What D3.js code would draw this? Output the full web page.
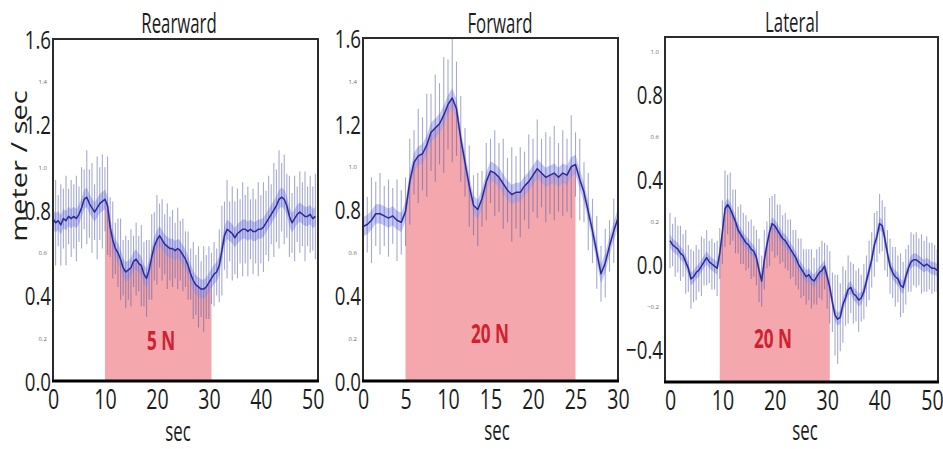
<!DOCTYPE html>
<html>
<head>
<meta charset="utf-8">
<script src="https://cdn.jsdelivr.net/npm/d3@7"></script>
<style>
  html, body { margin: 0; padding: 0; background: #fff; }
  svg { display: block; font-family: "Open Sans", "Noto Sans", sans-serif; }
</style>
</head>
<body>
<svg id="chart" width="943" height="449"></svg>
<script>
// Walking speed (m/s) sampled every 0.5 s, mean and error half-length per sample
const sampleStep = 0.5;

const rearwardMean = [
  0.76,0.74,0.75,0.73,0.76,0.75,0.77,0.76,0.77,0.76,
  0.78,0.81,0.85,0.86,0.83,0.81,0.79,0.81,0.83,0.84,
  0.85,0.82,0.72,0.66,0.62,0.60,0.57,0.53,0.51,0.52,
  0.53,0.56,0.57,0.55,0.54,0.50,0.48,0.52,0.58,0.63,
  0.66,0.68,0.66,0.64,0.63,0.62,0.62,0.61,0.62,0.61,
  0.59,0.57,0.54,0.50,0.47,0.45,0.44,0.43,0.43,0.44,
  0.46,0.48,0.50,0.51,0.54,0.61,0.68,0.71,0.70,0.69,
  0.67,0.69,0.70,0.71,0.71,0.70,0.71,0.70,0.70,0.71,
  0.71,0.72,0.74,0.76,0.78,0.80,0.82,0.85,0.86,0.85,
  0.82,0.77,0.74,0.76,0.78,0.79,0.78,0.77,0.77,0.78,
  0.76,0.77
];
const rearwardErr = [
  0.16,0.20,0.12,0.19,0.14,0.21,0.13,0.18,0.15,0.20,
  0.13,0.19,0.14,0.22,0.16,0.21,0.13,0.24,0.17,0.22,
  0.15,0.23,0.14,0.18,0.12,0.16,0.19,0.13,0.17,0.14,
  0.18,0.12,0.17,0.13,0.19,0.15,0.18,0.14,0.20,0.16,
  0.21,0.15,0.19,0.14,0.20,0.15,0.18,0.13,0.19,0.14,
  0.17,0.13,0.16,0.12,0.18,0.14,0.19,0.13,0.20,0.15,
  0.17,0.12,0.15,0.11,0.17,0.21,0.16,0.23,0.14,0.22,
  0.17,0.21,0.15,0.22,0.16,0.21,0.14,0.20,0.15,0.22,
  0.16,0.21,0.15,0.20,0.14,0.22,0.17,0.23,0.16,0.21,
  0.15,0.19,0.14,0.20,0.13,0.19,0.15,0.21,0.14,0.18,
  0.15,0.20
];

const forwardMean = [
  0.72,0.73,0.75,0.78,0.78,0.77,0.76,0.77,0.75,0.74,
  0.79,0.93,1.02,1.05,1.06,1.10,1.16,1.18,1.20,1.24,
  1.29,1.32,1.27,1.13,1.02,0.91,0.82,0.80,0.85,0.93,
  0.98,0.97,0.95,0.92,0.89,0.87,0.88,0.88,0.91,0.93,
  0.96,0.99,0.97,0.95,0.96,0.97,0.95,0.97,0.96,1.00,
  1.01,0.94,0.88,0.79,0.70,0.60,0.50,0.55,0.63,0.70,
  0.76
];
const forwardErr = [
  0.17,0.13,0.20,0.15,0.19,0.14,0.18,0.13,0.19,0.15,
  0.16,0.20,0.15,0.22,0.17,0.24,0.18,0.25,0.19,0.27,
  0.21,0.30,0.22,0.20,0.16,0.19,0.14,0.17,0.13,0.18,
  0.15,0.20,0.16,0.21,0.15,0.22,0.17,0.21,0.16,0.22,
  0.17,0.23,0.16,0.21,0.18,0.22,0.16,0.20,0.17,0.24,
  0.15,0.19,0.14,0.18,0.15,0.17,0.13,0.16,0.12,0.15,
  0.13
];

const lateralMean = [
  0.11,0.09,0.08,0.07,0.05,0.04,0.01,-0.02,-0.07,-0.06,
  -0.04,-0.03,-0.01,0.01,0.03,0.01,0.00,-0.01,-0.02,0.05,
  0.15,0.26,0.28,0.26,0.23,0.20,0.16,0.14,0.12,0.10,
  0.09,0.07,0.06,0.03,-0.03,-0.08,0.02,0.09,0.15,0.19,
  0.18,0.16,0.14,0.12,0.11,0.09,0.07,0.05,0.03,0.00,
  -0.02,-0.04,-0.06,-0.05,-0.07,-0.08,-0.06,-0.04,-0.03,-0.01,
  -0.06,-0.11,-0.18,-0.24,-0.26,-0.25,-0.19,-0.16,-0.12,-0.11,
  -0.14,-0.15,-0.17,-0.16,-0.13,-0.08,-0.03,0.02,0.09,0.13,
  0.19,0.18,0.12,0.05,-0.01,-0.04,-0.06,-0.07,-0.10,-0.11,
  -0.06,-0.02,0.01,0.02,0.02,0.01,0.00,-0.01,0.00,-0.01,
  -0.02,-0.02,-0.03
];
const lateralErr = [
  0.13,0.10,0.14,0.11,0.13,0.10,0.15,0.11,0.14,0.12,
  0.13,0.10,0.14,0.11,0.13,0.10,0.12,0.11,0.13,0.12,
  0.15,0.18,0.14,0.17,0.12,0.15,0.11,0.14,0.12,0.13,
  0.11,0.14,0.12,0.13,0.15,0.12,0.14,0.11,0.16,0.13,
  0.15,0.12,0.14,0.11,0.13,0.12,0.14,0.11,0.13,0.12,
  0.14,0.11,0.13,0.12,0.14,0.11,0.13,0.12,0.14,0.11,
  0.15,0.17,0.14,0.19,0.21,0.16,0.18,0.13,0.16,0.12,
  0.14,0.12,0.15,0.11,0.13,0.12,0.14,0.13,0.15,0.12,
  0.14,0.12,0.15,0.11,0.13,0.12,0.14,0.11,0.15,0.12,
  0.13,0.11,0.14,0.12,0.13,0.11,0.14,0.12,0.13,0.11,
  0.12,0.11,0.10
];

const panelTitles = ["Rearward", "Forward", "Lateral"];
const forceLabels = ["5 N", "20 N", "20 N"];
const forceWindows = [[10, 30.5], [5, 25], [9.5, 30.5]];
const xTickValues = [[0, 10, 20, 30, 40, 50], [0, 5, 10, 15, 20, 25, 30], [0, 10, 20, 30, 40, 50]];
const yMajorTicks = [[0, 0.4, 0.8, 1.2, 1.6], [0, 0.4, 0.8, 1.2, 1.6], [-0.4, 0, 0.4, 0.8]];
const yMinorTicks = [[0.2, 0.6, 1.0, 1.4], [0.2, 0.6, 1.0, 1.4], [-0.2, 0.2, 0.6, 1.0]];
const spreadBand = [0.045, 0.045, 0.03];
const yDomains = [[0, 1.6], [0, 1.6], [-0.555, 1.068]];
const xDomains = [[0, 51], [0, 30], [-0.95, 51.15]];

const series = [
  { mean: rearwardMean, err: rearwardErr },
  { mean: forwardMean, err: forwardErr },
  { mean: lateralMean, err: lateralErr }
];

// Frame geometry of each panel
const frames = [
  { left: 53, right: 318, top: 39, bottom: 381, titleX: 179, titleY: 33, secX: 178, secY: 441, forceY: 350, forceX: 161 },
  { left: 363, right: 618, top: 38, bottom: 381, titleX: 500, titleY: 33, secX: 497, secY: 440, forceY: 343, forceX: 490 },
  { left: 665, right: 938, top: 37, bottom: 382, titleX: 792, titleY: 32, secX: 805, secY: 440, forceY: 348, forceX: 773 }
];

const colors = {
  force: "#f4a7ac",
  band: "#9ea2f0",
  bar: "#4d55a8",
  mean: "#2a2a98",
  frame: "#2b2b2b",
  text: "#1c1c1c",
  forceText: "#cf2231"
};

const svg = d3.select("#chart");

// Text squeezed horizontally, the way the figure's lettering is set
function squeezedText(parent, x, y, str, size, sx, opts = {}) {
  return parent.append("text")
    .attr("transform", `translate(${x},${y}) scale(${sx},1)`)
    .attr("text-anchor", opts.anchor || "middle")
    .style("font-size", size + "px")
    .style("font-weight", opts.weight || 400)
    .attr("fill", opts.fill || colors.text)
    .text(str);
}

frames.forEach((f, i) => {
  const s = series[i];
  const samples = s.mean.map((m, k) => ({ t: k * sampleStep, m, e: s.err[k] }));

  const x = d3.scaleLinear().domain(xDomains[i]).range([f.left, f.right]);
  const y = d3.scaleLinear().domain(yDomains[i]).range([f.bottom, f.top]);

  const g = svg.append("g");
  const clipId = "clip" + i;
  svg.append("clipPath").attr("id", clipId)
    .append("rect")
    .attr("x", f.left).attr("y", f.top)
    .attr("width", f.right - f.left).attr("height", f.bottom - f.top);

  const plot = g.append("g").attr("clip-path", `url(#${clipId})`);

  // Applied-force interval: filled under the mean speed curve
  const [fa, fb] = forceWindows[i];
  const inForce = samples.filter(d => d.t >= fa - 1e-9 && d.t <= fb + 1e-9);
  plot.append("path")
    .datum(inForce)
    .attr("fill", colors.force)
    .attr("d", d3.area()
      .x(d => x(d.t))
      .y0(y(yDomains[i][0]))
      .y1(d => y(d.m)));

  // Spread band around the mean
  plot.append("path")
    .datum(samples)
    .attr("fill", colors.band)
    .attr("fill-opacity", 0.6)
    .attr("d", d3.area()
      .x(d => x(d.t))
      .y0(d => y(d.m - spreadBand[i]))
      .y1(d => y(d.m + spreadBand[i])));

  // Error bars
  plot.append("g")
    .selectAll("line")
    .data(samples)
    .join("line")
    .attr("x1", d => x(d.t)).attr("x2", d => x(d.t))
    .attr("y1", d => y(d.m - d.e)).attr("y2", d => y(d.m + d.e))
    .attr("stroke", colors.bar)
    .attr("stroke-opacity", 0.5)
    .attr("stroke-width", 1.1);

  // Mean speed
  plot.append("path")
    .datum(samples)
    .attr("fill", "none")
    .attr("stroke", colors.mean)
    .attr("stroke-width", 1.5)
    .attr("stroke-linejoin", "round")
    .attr("d", d3.line().x(d => x(d.t)).y(d => y(d.m)));

  // Frame
  g.append("rect")
    .attr("x", f.left).attr("y", f.top)
    .attr("width", f.right - f.left).attr("height", f.bottom - f.top)
    .attr("fill", "none")
    .attr("stroke", colors.frame)
    .attr("stroke-width", 2);
  g.append("line")
    .attr("x1", f.left - 1).attr("x2", f.right + 1)
    .attr("y1", f.bottom).attr("y2", f.bottom)
    .attr("stroke", "#000")
    .attr("stroke-width", 3);

  // X axis
  const xAxis = g.append("g")
    .attr("transform", `translate(0,${f.bottom})`)
    .call(d3.axisBottom(x).tickValues(xTickValues[i]).tickSize(0).tickFormat(d3.format("d")));
  xAxis.select(".domain").remove();
  xAxis.selectAll(".tick text")
    .attr("y", null).attr("dy", null)
    .attr("transform", "translate(0,28) scale(0.7,1)")
    .attr("fill", colors.text)
    .style("font-size", "28px")
    .style("font-family", "'Open Sans', sans-serif");

  // Y axis: large labels every 0.4, tiny ones in between
  const majors = yMajorTicks[i];
  const isMajor = v => majors.some(m => Math.abs(m - v) < 1e-9);
  const yAxis = g.append("g")
    .attr("transform", `translate(${f.left},0)`)
    .call(d3.axisLeft(y).tickValues(majors.concat(yMinorTicks[i])).tickSize(0).tickFormat(d3.format(".1f")));
  yAxis.select(".domain").remove();
  yAxis.selectAll(".tick text")
    .attr("x", null).attr("dy", "0.36em")
    .attr("text-anchor", "end")
    .style("font-family", "'Open Sans', sans-serif")
    .each(function (d) {
      const t = d3.select(this);
      if (isMajor(d)) {
        t.attr("transform", "translate(-2,0) scale(0.72,1)")
          .attr("fill", colors.text)
          .style("font-size", "26px");
      } else {
        t.attr("transform", "translate(-6,0)")
          .attr("fill", "#6a6a6a")
          .style("font-size", "6px");
      }
    });

  // Titles and labels
  squeezedText(g, f.titleX, f.titleY, panelTitles[i], 28, 0.6);
  squeezedText(g, f.secX, f.secY, "sec", 28, 0.6);
  squeezedText(g, f.forceX, f.forceY, forceLabels[i], 26, 0.66, { weight: 700, fill: colors.forceText });
});

// Shared y-axis label
svg.append("text")
  .attr("transform", "translate(27,166) scale(0.75,1) rotate(-90)")
  .attr("text-anchor", "middle")
  .style("font-size", "29px")
  .attr("fill", colors.text)
  .text("meter / sec");
</script>
</body>
</html>
